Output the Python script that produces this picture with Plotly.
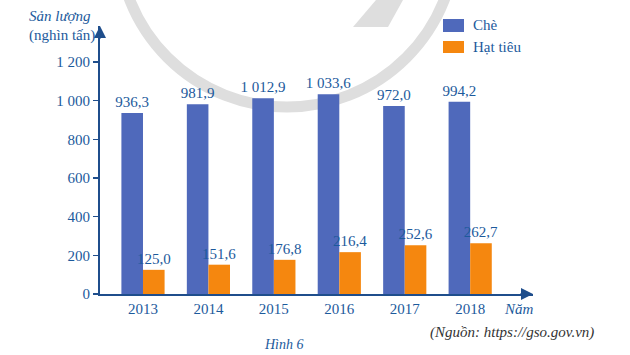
import plotly.graph_objects as go

years = ["2013", "2014", "2015", "2016", "2017", "2018"]
che = [936.3, 981.9, 1012.9, 1033.6, 972.0, 994.2]
hat_tieu = [125.0, 151.6, 176.8, 216.4, 252.6, 262.7]
y_ticks = [0, 200, 400, 600, 800, 1000, 1200]

W, H = 630, 355
L, R, T, B = 100, 533, 26, 294  # plot area in pixels

def px(x):
    return (x - L) / (R - L)

def py(y):
    return (B - y) / (B - T)

BLUE = "#4f69bb"
ORANGE = "#f5870f"
TXT = "#1c5a9c"
AX = "#1f4e8c"
FONT = "Liberation Serif"

fig = go.Figure()
fig.add_trace(go.Bar(
    x=years, y=che, name="Chè", marker_color=BLUE, marker_line_width=0,
    width=0.33, offset=-0.33,
    texttemplate="%{y:,.1f}", textposition="outside", constraintext="none",
    textfont=dict(family=FONT, size=15, color=TXT), cliponaxis=False,
))
fig.add_trace(go.Bar(
    x=years, y=hat_tieu, name="Hạt tiêu", marker_color=ORANGE, marker_line_width=0,
    width=0.33, offset=0.0,
    texttemplate="%{y:,.1f}", textposition="outside", constraintext="none",
    textfont=dict(family=FONT, size=15, color=TXT), cliponaxis=False,
))

shapes = []
# watermark
shapes.append(dict(type="circle", xref="paper", yref="paper",
                   x0=px(118), x1=px(456), y0=py(107), y1=py(-231),
                   line=dict(color="#dedede", width=11), layer="below"))
shapes.append(dict(type="path", xref="paper", yref="paper", layer="below",
                   path=f"M {px(353)},{py(27)} L {px(388)},{py(27)} L {px(403)},{py(0)} L {px(376)},{py(0)} Z",
                   fillcolor="#dedede", line=dict(width=0)))
# legend swatches
shapes.append(dict(type="rect", xref="paper", yref="paper",
                   x0=px(443), x1=px(464), y0=py(32), y1=py(19),
                   fillcolor=BLUE, line=dict(width=0)))
shapes.append(dict(type="rect", xref="paper", yref="paper",
                   x0=px(443), x1=px(464), y0=py(53), y1=py(41),
                   fillcolor=ORANGE, line=dict(width=0)))

annotations = [
    dict(text="Chè", x=px(471), y=py(25)),
    dict(text="Hạt tiêu", x=px(471), y=py(47)),
    dict(text="<i>Sản lượng</i>", x=px(27), y=py(16)),
    dict(text="(nghìn tấn)", x=px(27), y=py(35)),
    dict(text="<i>Năm</i>", x=px(502), y=py(309)),
    dict(text="<i>(Nguồn: https://gso.gov.vn)</i>", x=px(428), y=py(332), color="#333333"),
    dict(text="<i>Hình 6</i>", x=px(262), y=py(344), size=14),
]
anns = []
for a in annotations:
    anns.append(dict(text=a["text"], x=a["x"], y=a["y"], xref="paper", yref="paper",
                     xanchor="left", yanchor="middle", showarrow=False,
                     font=dict(family=FONT, size=a.get("size", 15), color=a.get("color", TXT))))
# axis arrows
anns.append(dict(x=1, y=0, xref="paper", yref="paper", ax=-14, ay=0, text="",
                 showarrow=True, arrowhead=2, arrowsize=1.2, arrowwidth=2, arrowcolor=AX, standoff=0))
anns.append(dict(x=0, y=1, xref="paper", yref="paper", ax=0, ay=14, text="",
                 showarrow=True, arrowhead=2, arrowsize=1.2, arrowwidth=2, arrowcolor=AX, standoff=0))

ymax = 1200 * (B - T) / (294 - 62)

fig.update_layout(
    width=W, height=H,
    margin=dict(l=L, r=W - R, t=T, b=H - B, pad=0),
    paper_bgcolor="white", plot_bgcolor="rgba(0,0,0,0)",
    showlegend=False, barmode="overlay",
    separators=", ",
    font=dict(family=FONT, size=15, color=TXT),
    shapes=shapes, annotations=anns,
    xaxis=dict(type="category", range=[-0.657, 5.96], showline=True, linecolor=AX, linewidth=2,
               ticks="", showgrid=False, zeroline=False,
               tickfont=dict(family=FONT, size=15, color=TXT)),
    yaxis=dict(range=[0, ymax], tickvals=y_ticks, showline=True, linecolor=AX, linewidth=2,
               ticks="outside", ticklen=5, tickwidth=1.5, tickcolor=AX,
               tickformat=",d", separatethousands=True,
               showgrid=False, zeroline=False,
               tickfont=dict(family=FONT, size=15, color=TXT)),
)

fig.write_html("out.html", config={"displayModeBar": False, "staticPlot": True},
               post_script="document.body.style.margin='0';document.body.style.overflow='hidden';")
